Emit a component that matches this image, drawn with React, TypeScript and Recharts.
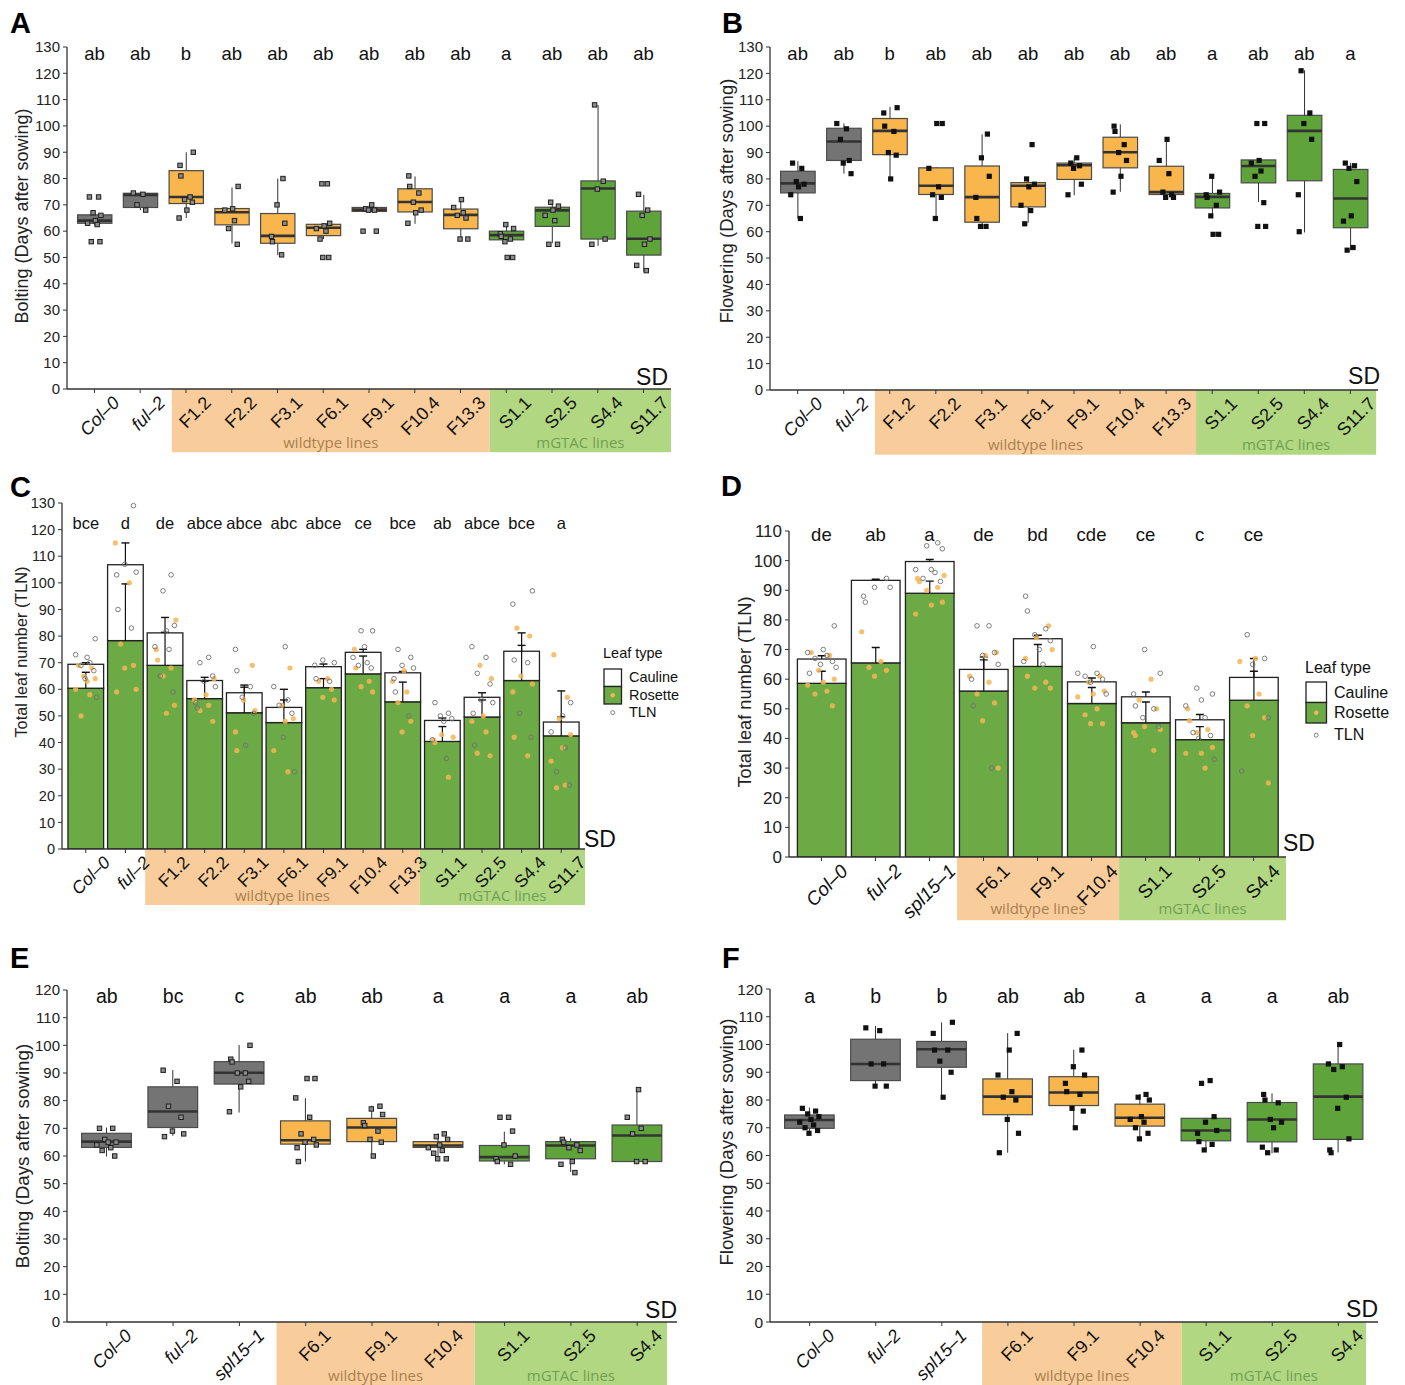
import React from 'react';
import { ComposedChart, Bar, Scatter, XAxis, YAxis, ReferenceArea, Legend } from 'recharts';

const FONT = '"Liberation Sans", Arial, Helvetica, sans-serif';
const BAND_FONT = '"Open Sans", "Liberation Sans", sans-serif';

// categories
const CATS_LONG = ['Col–0', 'ful–2', 'F1.2', 'F2.2', 'F3.1', 'F6.1', 'F9.1', 'F10.4', 'F13.3', 'S1.1', 'S2.5', 'S4.4', 'S11.7'];
const CATS_SHORT = ['Col–0', 'ful–2', 'spl15–1', 'F6.1', 'F9.1', 'F10.4', 'S1.1', 'S2.5', 'S4.4'];
const ITALIC_NAMES = ['Col–0', 'ful–2', 'spl15–1'];

const TICKS_130 = [0, 10, 20, 30, 40, 50, 60, 70, 80, 90, 100, 110, 120, 130];
const TICKS_120 = [0, 10, 20, 30, 40, 50, 60, 70, 80, 90, 100, 110, 120];
const TICKS_110 = [0, 10, 20, 30, 40, 50, 60, 70, 80, 90, 100, 110];

// significance letters
const A_SIG = ['ab', 'ab', 'b', 'ab', 'ab', 'ab', 'ab', 'ab', 'ab', 'a', 'ab', 'ab', 'ab'];
const B_SIG = ['ab', 'ab', 'b', 'ab', 'ab', 'ab', 'ab', 'ab', 'ab', 'a', 'ab', 'ab', 'a'];
const C_SIG = ['bce', 'd', 'de', 'abce', 'abce', 'abc', 'abce', 'ce', 'bce', 'ab', 'abce', 'bce', 'a'];
const D_SIG = ['de', 'ab', 'a', 'de', 'bd', 'cde', 'ce', 'c', 'ce'];
const E_SIG = ['ab', 'bc', 'c', 'ab', 'ab', 'a', 'a', 'a', 'ab'];
const F_SIG = ['a', 'b', 'b', 'ab', 'ab', 'a', 'a', 'a', 'ab'];

// box stats: [lower whisker, Q1, median, Q3, upper whisker]
const A_BOX = [
  [62, 63, 64, 66.2, 67], [68, 69, 73.8, 74.4, 75], [65, 70.5, 73, 83, 90], [55.3, 62.4, 67.2, 68.6, 76.6],
  [50.9, 55.4, 58.2, 66.7, 80], [57, 58.3, 61.3, 62.6, 63], [67, 67.5, 68.2, 69, 70], [62.8, 67.3, 71.1, 76.1, 80.8],
  [57, 60.9, 66.2, 68.4, 71.5], [56, 56.7, 58.5, 60, 62.3], [55.4, 61.8, 67.9, 69.1, 70.9], [54.4, 57, 76.2, 79.1, 108],
  [44.6, 50.9, 57.1, 67.6, 73.8],
];
const A_POINTS = [
  [73, 73, 67, 66, 64, 63, 62.5, 56, 56], [74.5, 74, 70, 68], [90, 85, 81, 73, 72, 71, 68, 65], [77, 68.5, 68, 64, 61, 55],
  [80, 70, 63, 58, 56, 51], [78, 78, 63, 62, 61, 60, 57, 50, 50], [70, 68.5, 68, 68, 60, 60], [81, 77, 74.5, 71, 68, 67, 63],
  [72, 69, 67, 66, 65, 57, 57], [62.5, 61, 59, 58, 57, 56, 50, 50], [71, 69.5, 68, 66, 64, 55, 55], [108, 79, 76, 57, 55],
  [74, 68, 66, 57, 55, 47, 45],
];

const B_BOX = [
  [65, 74.7, 78.3, 82.9, 86.7], [82, 87, 94.2, 99.2, 101], [80, 89.2, 98.2, 102.9, 107.3], [65, 74.1, 77.4, 84.2, 84.5],
  [62, 63.6, 73.1, 84.9, 96.9], [63.4, 69.4, 77.4, 78.6, 80.1], [73.8, 79.8, 85.2, 86, 88.1], [75.1, 84.2, 90.1, 95.8, 100.7],
  [73, 74.1, 75, 84.8, 95], [65.6, 69, 73.2, 74.5, 81.2], [71.3, 78.5, 84.9, 87.2, 87.5], [59.7, 79.3, 98.2, 104.1, 121.2],
  [53, 61.5, 72.6, 83.6, 86.1],
];
const B_POINTS = [
  [86, 84, 79, 78, 77, 74, 65], [101, 99, 95, 87, 86, 82], [107, 105, 100, 98, 90, 89, 80], [101, 101, 84, 77, 74, 73, 65],
  [97, 88, 81, 73, 65, 62, 62], [93, 80, 78, 77, 70, 68, 63], [88, 86, 85, 84, 78, 74], [100, 98, 93, 90, 87, 81, 75],
  [95, 87, 82, 75, 74, 73, 73], [81, 75, 74, 73, 70, 66, 59, 59], [101, 101, 87, 86, 83, 81, 71, 62, 62], [121, 105, 101, 95, 74, 60],
  [86, 85, 84, 79, 66, 64, 54, 53],
];

// leaf numbers: rosette mean, total mean, upper ends of SD bars
const C_ROSETTE = [60.4, 78.3, 69, 56.5, 51.2, 47.5, 60.6, 65.8, 55.3, 40.4, 49.6, 63.3, 42.5];
const C_TOTAL = [69.4, 106.8, 81.2, 63.3, 58.7, 53.2, 68.5, 73.9, 66.2, 48.3, 57, 74.3, 47.7];
const C_ROSETTE_SD = [66.4, 99.6, 81.4, 63, 60.8, 56, 64, 72.5, 62.7, 46, 56, 76.5, 49.7];
const C_TOTAL_SD = [70, 115, 87, 64.5, 61.6, 60, 69.5, 75, 66.7, 49.2, 58.7, 81.2, 59.4];
const C_TLN_POINTS = [
  [79, 72, 73, 70, 69, 67, 64, 57], [129, 107, 104, 103, 90, 83], [103, 97, 84, 82, 76, 75, 65, 59], [72, 70, 65, 63, 61, 55, 53],
  [75, 67, 61, 57, 51, 39], [76, 61, 56, 54, 51, 42, 29], [71, 70, 69, 64, 63], [82, 82, 76, 72, 70, 69, 68],
  [75, 72, 69, 68, 64, 59, 50], [55, 51, 50, 49, 48, 41, 34], [76, 72, 66, 62, 56, 55, 51, 39], [97, 92, 71, 70, 51, 42],
  [55, 50, 44, 38, 29, 24],
];
const C_ROSETTE_POINTS = [
  [69, 68, 65, 64, 63, 60, 58, 50], [115, 100, 77, 69, 68, 60, 59], [86, 75, 71, 68, 65, 54, 51], [64, 58, 56, 54, 52, 48],
  [69, 56, 52, 44, 37], [68, 54, 49, 48, 37, 29], [64, 63, 60, 57, 56], [75, 68, 63, 61, 59],
  [67, 63, 59, 55, 48, 44], [43, 42, 41, 40, 27], [69, 64, 50, 48, 44, 36, 35], [83, 80, 65, 62, 59, 42, 35],
  [73, 57, 49, 43, 38, 33, 24, 23],
];

const D_ROSETTE = [58.6, 65.5, 89, 56, 64.3, 51.8, 45.3, 39.6, 52.9];
const D_TOTAL = [66.8, 93.35, 99.7, 63.3, 73.65, 59.1, 54.05, 46.3, 60.6];
const D_ROSETTE_SD = [62.7, 70.7, 93.1, 66.5, 71.7, 57.2, 52.3, 44, 62.7];
const D_TOTAL_SD = [67.9, 93.7, 100.4, 67.5, 74.8, 60.4, 55.7, 48.1, 67];
const D_TLN_POINTS = [
  [78, 70, 69, 68, 67, 66, 65, 64, 62], [94, 91, 91, 88, 86], [106, 105, 104, 97, 97, 96, 94, 93],
  [78, 78, 69, 68, 65, 60, 51, 30], [88, 83, 77, 75, 73, 70, 66, 65], [71, 62, 62, 61, 60, 59, 55],
  [70, 62, 55, 51, 50, 47, 44], [57, 55, 53, 51, 47, 42, 41, 40, 33], [75, 67, 65, 47, 29],
];
const D_ROSETTE_POINTS = [
  [69, 68, 63, 60, 59, 58, 56, 55, 51], [76, 66, 64, 63, 61], [95, 94, 93, 91, 90, 86, 85, 82],
  [69, 68, 61, 59, 55, 52, 46, 30], [78, 74, 70, 67, 61, 59, 57, 57], [61, 59, 56, 55, 54, 50, 48, 45, 45],
  [60, 53, 50, 44, 43, 42, 41, 36], [50, 46, 43, 42, 37, 35, 35, 30], [67, 66, 55, 51, 47, 41, 25],
];

const E_BOX = [
  [59.8, 63.1, 65.2, 68.2, 70.3], [67.3, 70.3, 76.1, 85, 91.1], [75.7, 86, 90.1, 94.1, 100.1],
  [58, 64.3, 65.7, 72.7, 80.9], [59.9, 65.2, 70.3, 73.6, 78.2], [59, 63.1, 63.8, 65.2, 68.2],
  [57, 58.2, 59.6, 63.8, 68.8], [54.2, 59, 63.8, 65.2, 66.4], [58, 58, 67.4, 71.2, 84.2],
];
const E_POINTS = [
  [70, 70, 66, 65, 65, 64, 63, 62, 60], [91, 87, 78, 74, 69, 68, 67], [100, 95, 94, 90, 90, 87, 85, 76],
  [88, 88, 81, 74, 68, 66, 65, 64, 63, 58], [78, 77, 75, 72, 71, 69, 66, 65, 60], [68, 67, 66, 64, 63, 62, 61, 59, 59],
  [74, 74, 69, 64, 60, 59, 58, 57], [66, 65, 64, 63, 62, 58, 57, 54], [84, 74, 70, 68, 58, 58],
];

const F_BOX = [
  [68.2, 69.8, 72.8, 74.6, 77.3], [85.1, 87, 93, 101.9, 106.7], [81.2, 91.8, 98.3, 101.1, 108],
  [61, 74.7, 81.2, 87.6, 104.1], [69.8, 78, 82.7, 88.4, 98.1], [65.9, 70.6, 73.6, 78.5, 82.2],
  [62.2, 65.3, 69, 73.4, 73.6], [60.8, 64.9, 73, 79.1, 82.4], [61.1, 65.8, 81.2, 93, 100.1],
];
const F_POINTS = [
  [77, 76, 75, 74, 73, 72, 71, 70, 69, 68], [106, 105, 93, 93, 85, 85], [108, 104, 98, 98, 94, 90, 81],
  [104, 98, 89, 83, 81, 80, 73, 68, 61], [98, 92, 89, 86, 83, 82, 77, 76, 70], [82, 81, 80, 74, 73, 72, 70, 68, 66],
  [87, 86, 74, 72, 69, 68, 65, 64, 62], [82, 80, 79, 73, 72, 70, 63, 62, 61], [100, 93, 92, 91, 81, 77, 66, 62, 61],
];

const JITTER = [-0.11, 0.09, -0.03, 0.14, 0.02, -0.15, 0.06, -0.07, 0.12, -0.01, 0.16, -0.13];

const BOX_FILL: Record<string, string> = { ctrl: '#747474', wt: '#F8B64C', gt: '#5FA33B' };
const BAR_GREEN = '#6BAA45';
const BANDS = {
  wt: { fill: '#F8CD9B', text: '#A9804F', label: 'wildtype lines' },
  gt: { fill: '#B1D782', text: '#72A052', label: 'mGTAC lines' },
};

const groupOf = (name: string) => (name.startsWith('F') ? 'wt' : name.startsWith('S') ? 'gt' : 'ctrl');

const jittered = (lists: number[][], spread: number, shift: number) =>
  lists.flatMap((vals, i) =>
    vals.map((v, j) => ({ x: i + JITTER[(i * 5 + j + shift) % JITTER.length] * spread, y: v }))
  );

const PANEL_A = {
  geo: { ox: 0, oy: 0, w: 700, h: 470, l: 67, r: 671, t: 47, b: 389 },
  ymax: 130, ticks: TICKS_130, tickFs: 15, sigY: 60, sigFs: 18.5, xFs: 18,
  bands: [[1.69, 8.64], [8.64, 12.6]], bandBottom: -24, bandOffset: 4, marker: 'hollow',
};
const PANEL_B = {
  geo: { ox: 702, oy: 0, w: 703, h: 470, l: 770, r: 1378, t: 47, b: 390 },
  ymax: 130, ticks: TICKS_130, tickFs: 15, sigY: 60, sigFs: 18.5, xFs: 18,
  bands: [[1.68, 8.65], [8.65, 12.56]], bandBottom: -24.5, bandOffset: 5, marker: 'solid',
};
const PANEL_C = {
  geo: { ox: 0, oy: 470, w: 700, h: 450, l: 62, r: 585, t: 503, b: 849 },
  ymax: 130, ticks: TICKS_130, tickFs: 14.5, sigY: 529, sigFs: 16.5, xFs: 17.5,
  bands: [[1.5, 8.43], [8.43, 12.6]], bandBottom: -21, bandOffset: 4,
  legend: { left: 598, top: 170, s: 17.5, fs: 14.5, titleY: 18, boxX: 6, boxY: 29, textX: 31, tlnY: 77 },
};
const PANEL_D = {
  geo: { ox: 702, oy: 470, w: 703, h: 460, l: 789, r: 1286, t: 531, b: 857 },
  ymax: 110, ticks: TICKS_110, tickFs: 17, sigY: 541, sigFs: 18.5, xFs: 19,
  bands: [[2.51, 5.51], [5.51, 8.6]], bandBottom: -21.3, bandOffset: 6,
  legend: { left: 600, top: 185, s: 20.5, fs: 16, titleY: 18, boxX: 4, boxY: 27, textX: 32, tlnY: 85 },
};
const PANEL_E = {
  geo: { ox: 0, oy: 940, w: 700, h: 445, l: 67, r: 677, t: 990, b: 1322 },
  ymax: 120, ticks: TICKS_120, tickFs: 15, sigY: 1003, sigFs: 19.5, xFs: 18,
  bands: [[2.56, 5.55], [5.55, 8.45]], bandBottom: -23.5, bandOffset: 6, marker: 'hollow',
};
const PANEL_F = {
  geo: { ox: 702, oy: 940, w: 703, h: 445, l: 770, r: 1378, t: 989, b: 1322 },
  ymax: 120, ticks: TICKS_120, tickFs: 15.5, sigY: 1003, sigFs: 19.5, xFs: 18,
  bands: [[2.61, 5.63], [5.63, 8.42]], bandBottom: -23.5, bandOffset: 6, marker: 'solid',
};

const Y_TITLES = [
  { text: 'Bolting (Days after sowing)', x: 22, y: 216, fs: 18 },
  { text: 'Flowering (Days after sowing)', x: 726, y: 201, fs: 18.5 },
  { text: 'Total leaf number (TLN)', x: 21, y: 652, fs: 16.3 },
  { text: 'Total leaf number (TLN)', x: 744, y: 692, fs: 18.2 },
  { text: 'Bolting (Days after sowing)', x: 22, y: 1156, fs: 18.8 },
  { text: 'Flowering (Days after sowing)', x: 726, y: 1142, fs: 18.7 },
];
const PANEL_LETTERS = [
  { text: 'A', x: 10, y: 33 }, { text: 'B', x: 722, y: 33 }, { text: 'C', x: 10, y: 497 },
  { text: 'D', x: 721, y: 496 }, { text: 'E', x: 10, y: 968 }, { text: 'F', x: 722, y: 968 },
];
const SD_LABELS = [
  { x: 668, y: 385, anchor: 'end' }, { x: 1380, y: 384, anchor: 'end' }, { x: 584, y: 847, anchor: 'start' },
  { x: 1283, y: 851, anchor: 'start' }, { x: 677, y: 1318, anchor: 'end' }, { x: 1378, y: 1317, anchor: 'end' },
];

const XTick = (props: any) => {
  const { x, y, payload, fs } = props;
  const name = String(payload.value);
  const ax = x + fs * 1.45;
  const ay = y + fs * 0.6;
  return (
    <text
      x={ax}
      y={ay}
      transform={`rotate(-45 ${ax} ${ay})`}
      textAnchor="end"
      fontSize={fs}
      fontFamily={FONT}
      fontStyle={ITALIC_NAMES.includes(name) ? 'italic' : 'normal'}
      fill="#111"
    >
      {name}
    </text>
  );
};

const BoxShape = (props: any) => {
  const { x, y, width, height } = props;
  const d = props.payload || props;
  const k = height / (d.hi - d.lo);
  const py = (v: number) => y + (d.hi - v) * k;
  const cx = x + width / 2;
  return (
    <g>
      <line x1={cx} x2={cx} y1={py(d.hi)} y2={py(d.lo)} stroke="#333" strokeWidth={1} />
      <rect x={x} y={py(d.q3)} width={width} height={py(d.q1) - py(d.q3)} fill={d.fill} stroke="#4a4a4a" strokeWidth={1.2} />
      <line x1={x} x2={x + width} y1={py(d.med)} y2={py(d.med)} stroke="#333" strokeWidth={2.6} />
    </g>
  );
};

const CaulineShape = (props: any) => {
  const { x, y, width, height } = props;
  const d = props.payload || props;
  const k = height / (d.tot - d.ros);
  const py = (v: number) => y + (d.tot - v) * k;
  const cx = x + width / 2;
  const cap = 4;
  return (
    <g>
      <rect x={x} y={y} width={width} height={height} fill="#fff" stroke="#222" strokeWidth={1.3} />
      <line x1={cx} x2={cx} y1={py(d.ros)} y2={py(d.rosSd)} stroke="#111" strokeWidth={1.2} />
      <line x1={cx - cap} x2={cx + cap} y1={py(d.rosSd)} y2={py(d.rosSd)} stroke="#111" strokeWidth={1.4} />
      <line x1={cx} x2={cx} y1={py(d.tot)} y2={py(d.totSd)} stroke="#111" strokeWidth={1.2} />
      <line x1={cx - cap} x2={cx + cap} y1={py(d.totSd)} y2={py(d.totSd)} stroke="#111" strokeWidth={1.4} />
    </g>
  );
};

const squareMarker = (kind: string) => (p: any) =>
  kind === 'solid' ? (
    <rect x={p.cx - 2.6} y={p.cy - 2.6} width={5.2} height={5.2} fill="#111" />
  ) : (
    <rect x={p.cx - 2.2} y={p.cy - 2.2} width={4.4} height={4.4} fill="#8c8c8c" stroke="#1e1e1e" strokeWidth={1} />
  );

const bandAreas = (cfg: any) =>
  cfg.bands.map((span: number[], i: number) => {
    const band = i === 0 ? BANDS.wt : BANDS.gt;
    return (
      <ReferenceArea
        key={band.label}
        xAxisId="num"
        x1={span[0]}
        x2={span[1]}
        y1={cfg.bandBottom}
        y2={0}
        fill={band.fill}
        fillOpacity={1}
        stroke="none"
        ifOverflow="visible"
        label={{ value: band.label, position: 'insideBottom', offset: cfg.bandOffset, fill: band.text, fontSize: 15, fontFamily: BAND_FONT }}
      />
    );
  });

const commonAxes = (cfg: any, n: number, sig: string[]) => {
  const g = cfg.geo;
  const unit = (g.r - g.l) / (n + 0.2);
  const idx = Array.from({ length: n }, (_, i) => i);
  return [
    <XAxis
      key="cat"
      xAxisId="cat"
      dataKey="name"
      type="category"
      padding={{ left: unit * 0.1, right: unit * 0.1 }}
      height={g.oy + g.h - g.b}
      interval={0}
      tickSize={4}
      tickMargin={0}
      axisLine={{ stroke: '#333', strokeWidth: 1.3 }}
      tickLine={{ stroke: '#333' }}
      tick={(p: any) => <XTick {...p} fs={cfg.xFs} />}
    />,
    <XAxis key="num" xAxisId="num" dataKey="x" type="number" domain={[-0.6, n - 0.4]} allowDataOverflow hide />,
    <XAxis
      key="sig"
      xAxisId="sig"
      orientation="top"
      mirror
      dataKey="x"
      type="number"
      domain={[-0.6, n - 0.4]}
      ticks={idx}
      interval={0}
      allowDataOverflow
      axisLine={false}
      tickLine={false}
      tick={(p: any) => (
        <text x={p.x} y={cfg.sigY - g.oy} textAnchor="middle" fontSize={cfg.sigFs} fontFamily={FONT} fill="#111">
          {sig[Math.round(p.payload.value)]}
        </text>
      )}
    />,
    <YAxis
      key="y"
      type="number"
      domain={[0, cfg.ymax]}
      ticks={cfg.ticks}
      interval={0}
      allowDataOverflow
      width={g.l - g.ox}
      tickSize={4}
      tickMargin={3}
      tick={{ fontSize: cfg.tickFs, fill: '#222', fontFamily: FONT }}
      axisLine={{ stroke: '#333', strokeWidth: 1.3 }}
      tickLine={{ stroke: '#333' }}
    />,
  ];
};

const BoxPanel = ({ cfg, cats, box, points, sig }: any) => {
  const g = cfg.geo;
  const n = cats.length;
  const unit = (g.r - g.l) / (n + 0.2);
  const data = cats.map((name: string, i: number) => ({
    name,
    lo: box[i][0], q1: box[i][1], med: box[i][2], q3: box[i][3], hi: box[i][4],
    fill: BOX_FILL[groupOf(name)],
  }));
  const dots = jittered(points, 1, 0);
  return (
    <div style={{ position: 'absolute', left: g.ox, top: g.oy }}>
      <ComposedChart width={g.w} height={g.h} data={data} margin={{ top: g.t - g.oy, right: g.ox + g.w - g.r, bottom: 0, left: 0 }}>
        {bandAreas(cfg)}
        {commonAxes(cfg, n, sig)}
        <Bar xAxisId="cat" dataKey={(d: any) => [d.lo, d.hi]} barSize={unit * 0.75} shape={BoxShape} isAnimationActive={false} />
        <Scatter xAxisId="num" data={dots} dataKey="y" shape={squareMarker(cfg.marker)} isAnimationActive={false} />
      </ComposedChart>
    </div>
  );
};

const LeafLegend = ({ s, fs, titleY, boxX, boxY, textX, tlnY }: any) => (
  <svg width={110} height={tlnY + 8} style={{ display: 'block', overflow: 'visible' }}>
    <text x={boxX - 1} y={titleY} fontSize={fs} fontFamily={FONT} fill="#111">Leaf type</text>
    <rect x={boxX} y={boxY} width={s} height={s} fill="#fff" stroke="#222" strokeWidth={1.3} />
    <rect x={boxX} y={boxY + s} width={s} height={s} fill={BAR_GREEN} stroke="#222" strokeWidth={1.3} />
    <circle cx={boxX + s / 2} cy={boxY + s * 1.5} r={2.2} fill="#F5B556" />
    <circle cx={boxX + s / 2} cy={tlnY - fs * 0.3} r={2} fill="none" stroke="#777" strokeWidth={0.9} />
    <text x={textX} y={boxY + s * 0.76} fontSize={fs} fontFamily={FONT} fill="#111">Cauline</text>
    <text x={textX} y={boxY + s * 1.76} fontSize={fs} fontFamily={FONT} fill="#111">Rosette</text>
    <text x={textX} y={tlnY} fontSize={fs} fontFamily={FONT} fill="#111">TLN</text>
  </svg>
);

const BarPanel = ({ cfg, cats, ros, tot, rosSd, totSd, tlnPts, rosPts, sig }: any) => {
  const g = cfg.geo;
  const n = cats.length;
  const unit = (g.r - g.l) / (n + 0.2);
  const data = cats.map((name: string, i: number) => ({
    name, ros: ros[i], cau: tot[i] - ros[i], tot: tot[i], rosSd: rosSd[i], totSd: totSd[i],
  }));
  const rosDots = jittered(rosPts, 1.7, 0);
  const tlnDots = jittered(tlnPts, 1.7, 3);
  const lg = cfg.legend;
  return (
    <div style={{ position: 'absolute', left: g.ox, top: g.oy }}>
      <ComposedChart width={g.w} height={g.h} data={data} margin={{ top: g.t - g.oy, right: g.ox + g.w - g.r, bottom: 0, left: 0 }}>
        {bandAreas(cfg)}
        {commonAxes(cfg, n, sig)}
        <Bar xAxisId="cat" dataKey="ros" stackId="leaf" barSize={unit * 0.9} fill={BAR_GREEN} stroke="#222" strokeWidth={1.3} isAnimationActive={false} />
        <Bar xAxisId="cat" dataKey="cau" stackId="leaf" barSize={unit * 0.9} shape={CaulineShape} isAnimationActive={false} />
        <Scatter
          xAxisId="num"
          data={rosDots}
          dataKey="y"
          shape={(p: any) => <circle cx={p.cx} cy={p.cy} r={2.6} fill="#F5B556" fillOpacity={0.85} />}
          isAnimationActive={false}
        />
        <Scatter
          xAxisId="num"
          data={tlnDots}
          dataKey="y"
          shape={(p: any) => <circle cx={p.cx} cy={p.cy} r={2.3} fill="none" stroke="#707070" strokeWidth={0.9} />}
          isAnimationActive={false}
        />
        <Legend
          layout="vertical"
          align="center"
          verticalAlign="middle"
          wrapperStyle={{ left: lg.left, top: lg.top, width: 110, height: 'auto' }}
          content={() => <LeafLegend {...lg} />}
        />
      </ComposedChart>
    </div>
  );
};

export default function App() {
  return (
    <div style={{ position: 'relative', width: 1405, height: 1385, background: '#fff', overflow: 'hidden', fontFamily: FONT }}>
      <style>{'body{margin:0}'}</style>
      <BoxPanel cfg={PANEL_A} cats={CATS_LONG} box={A_BOX} points={A_POINTS} sig={A_SIG} />
      <BoxPanel cfg={PANEL_B} cats={CATS_LONG} box={B_BOX} points={B_POINTS} sig={B_SIG} />
      <BarPanel
        cfg={PANEL_C} cats={CATS_LONG} ros={C_ROSETTE} tot={C_TOTAL} rosSd={C_ROSETTE_SD} totSd={C_TOTAL_SD}
        tlnPts={C_TLN_POINTS} rosPts={C_ROSETTE_POINTS} sig={C_SIG}
      />
      <BarPanel
        cfg={PANEL_D} cats={CATS_SHORT} ros={D_ROSETTE} tot={D_TOTAL} rosSd={D_ROSETTE_SD} totSd={D_TOTAL_SD}
        tlnPts={D_TLN_POINTS} rosPts={D_ROSETTE_POINTS} sig={D_SIG}
      />
      <BoxPanel cfg={PANEL_E} cats={CATS_SHORT} box={E_BOX} points={E_POINTS} sig={E_SIG} />
      <BoxPanel cfg={PANEL_F} cats={CATS_SHORT} box={F_BOX} points={F_POINTS} sig={F_SIG} />
      <svg width={1405} height={1385} style={{ position: 'absolute', left: 0, top: 0, pointerEvents: 'none' }}>
        {Y_TITLES.map((t, i) => (
          <text
            key={i}
            x={0}
            y={0}
            transform={`translate(${t.x + t.fs * 0.36} ${t.y}) rotate(-90)`}
            textAnchor="middle"
            fontSize={t.fs}
            fontFamily={FONT}
            fill="#222"
          >
            {t.text}
          </text>
        ))}
        {PANEL_LETTERS.map((t) => (
          <text key={t.text} x={t.x} y={t.y} fontSize={29} fontWeight="bold" fontFamily={FONT} fill="#000">
            {t.text}
          </text>
        ))}
        {SD_LABELS.map((t, i) => (
          <text key={i} x={t.x} y={t.y} textAnchor={t.anchor as any} fontSize={23} fontFamily={FONT} fill="#111">
            SD
          </text>
        ))}
      </svg>
    </div>
  );
}
